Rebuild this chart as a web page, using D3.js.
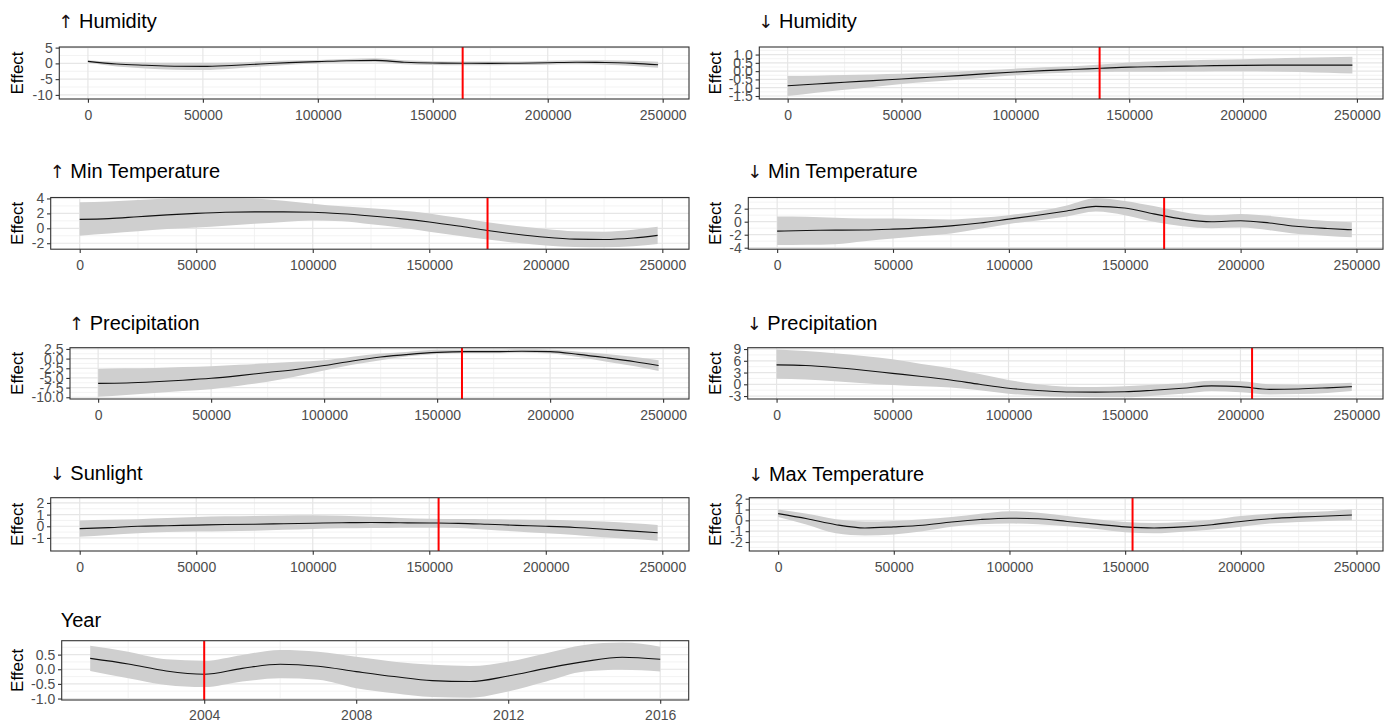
<!DOCTYPE html>
<html><head><meta charset="utf-8">
<script src="https://cdn.jsdelivr.net/npm/d3@7"></script>
<style>
body{margin:0;background:#fff;}
text{font-family:"Liberation Sans",Arial,Helvetica,sans-serif;}
</style>
</head><body>
<svg id="chart" width="1385" height="722"></svg>
<script>
// ---------- data ----------
const xGrid = [0,12500,25000,37500,50000,62500,75000,87500,100000,112500,125000,137500,150000,162500,175000,187500,200000,212500,225000,237500,248000];
const xTicks = [0,50000,100000,150000,200000,250000];
const yearGrid = [2001,2002,2003,2004,2005,2006,2007,2008,2009,2010,2011,2012,2013,2014,2015,2016];
const yearTicks = [2004,2008,2012,2016];

const titles = ["↑ Humidity","↓ Humidity","↑ Min Temperature","↓ Min Temperature","↑ Precipitation","↓ Precipitation","↓ Sunlight","↓ Max Temperature","Year"];

const humUpFit = [0.65,-0.2,-0.6,-0.9,-0.95,-0.65,-0.2,0.25,0.55,0.85,0.95,0.35,0.1,0.05,0.0,0.05,0.2,0.35,0.3,0.0,-0.45];
const humUpLo  = [0.3,-1.0,-1.6,-2.0,-2.1,-1.7,-1.0,-0.4,0.0,0.3,0.35,-0.3,-0.5,-0.6,-0.6,-0.5,-0.4,-0.3,-0.4,-0.8,-1.4];
const humUpHi  = [1.0,0.5,0.3,0.2,0.2,0.3,0.6,0.9,1.1,1.4,1.6,1.0,0.7,0.6,0.6,0.6,0.8,1.0,1.0,0.8,0.5];

const humDnFit = [-0.88,-0.78,-0.67,-0.57,-0.47,-0.37,-0.27,-0.15,-0.05,0.03,0.1,0.17,0.24,0.27,0.3,0.33,0.35,0.36,0.36,0.36,0.36];
const humDnLo  = [-1.5,-1.3,-1.12,-0.95,-0.78,-0.64,-0.52,-0.38,-0.25,-0.15,-0.08,-0.05,-0.03,-0.03,-0.02,0.0,0.0,-0.02,-0.05,-0.1,-0.15];
const humDnHi  = [-0.3,-0.28,-0.24,-0.2,-0.16,-0.1,-0.03,0.07,0.15,0.23,0.3,0.4,0.52,0.6,0.64,0.68,0.72,0.76,0.8,0.84,0.86];

const minUpFit = [1.2,1.3,1.55,1.8,2.0,2.15,2.2,2.2,2.15,1.95,1.65,1.3,0.85,0.3,-0.3,-0.8,-1.2,-1.45,-1.5,-1.3,-0.95];
const minUpLo  = [-1.0,-0.7,-0.4,-0.1,0.1,0.35,0.6,0.85,1.05,0.95,0.55,0.1,-0.45,-1.0,-1.5,-1.95,-2.3,-2.5,-2.55,-2.4,-2.1];
const minUpHi  = [3.5,3.6,3.8,4.0,4.1,4.1,4.0,3.7,3.3,2.95,2.7,2.4,2.0,1.4,0.8,0.3,-0.1,-0.4,-0.45,-0.2,0.2];

const minDnFit = [-1.45,-1.35,-1.3,-1.28,-1.15,-0.95,-0.65,-0.2,0.4,1.0,1.65,2.35,2.1,1.2,0.4,0.0,0.15,-0.2,-0.75,-1.05,-1.25];
const minDnLo  = [-3.6,-3.55,-3.45,-3.0,-2.6,-2.2,-1.8,-1.1,-0.35,0.2,0.8,1.55,1.0,0.0,-0.7,-1.0,-0.9,-1.3,-1.9,-2.2,-2.4];
const minDnHi  = [0.8,0.75,0.6,0.5,0.5,0.4,0.35,0.6,1.0,1.6,2.5,3.6,3.2,2.4,1.5,1.0,1.2,0.9,0.4,0.1,-0.1];

const precUpFit = [-6.4,-6.3,-6.0,-5.6,-5.1,-4.4,-3.6,-2.8,-1.8,-0.6,0.4,1.1,1.6,1.8,1.8,1.9,1.8,1.1,0.2,-0.8,-1.8];
const precUpLo  = [-9.9,-9.4,-8.9,-8.4,-7.9,-7.0,-6.0,-4.6,-3.1,-1.6,-0.4,0.6,1.2,1.4,1.4,1.5,1.3,0.4,-0.8,-2.0,-3.2];
const precUpHi  = [-2.7,-2.5,-2.4,-2.2,-2.0,-1.6,-1.2,-0.8,-0.4,0.5,1.3,1.8,2.3,2.3,2.3,2.4,2.3,1.8,1.2,0.4,-0.4];

const precDnFit = [4.95,4.8,4.3,3.6,2.8,2.0,1.1,0.0,-1.0,-1.6,-1.95,-2.0,-1.9,-1.5,-1.0,-0.4,-0.6,-1.3,-1.2,-0.9,-0.6];
const precDnLo  = [1.4,1.2,0.8,0.3,-0.2,-0.5,-0.8,-1.5,-2.4,-2.9,-3.2,-3.3,-3.3,-2.9,-2.4,-1.8,-2.0,-2.6,-2.5,-2.2,-1.7];
const precDnHi  = [8.9,8.5,7.9,7.2,6.4,5.2,4.1,2.6,1.1,0.0,-0.6,-0.7,-0.5,-0.1,0.3,0.9,0.8,0.0,-0.1,0.2,0.4];

const sunFit = [-0.2,-0.12,0.0,0.05,0.1,0.15,0.18,0.22,0.26,0.3,0.33,0.3,0.28,0.25,0.17,0.08,0.0,-0.1,-0.25,-0.42,-0.55];
const sunLo  = [-0.9,-0.75,-0.6,-0.5,-0.45,-0.42,-0.38,-0.3,-0.23,-0.18,-0.15,-0.12,-0.12,-0.15,-0.3,-0.45,-0.6,-0.75,-0.95,-1.1,-1.25];
const sunHi  = [0.5,0.55,0.6,0.7,0.8,0.85,0.88,0.92,0.95,0.9,0.82,0.72,0.65,0.62,0.6,0.58,0.55,0.5,0.4,0.25,0.1];

const maxDnFit = [0.62,0.15,-0.4,-0.7,-0.6,-0.45,-0.15,0.08,0.2,0.15,-0.1,-0.35,-0.6,-0.7,-0.6,-0.4,-0.1,0.15,0.3,0.4,0.5];
const maxDnLo  = [0.3,-0.4,-1.2,-1.4,-1.3,-1.0,-0.6,-0.35,-0.3,-0.35,-0.55,-0.8,-1.1,-1.2,-1.05,-0.85,-0.6,-0.3,-0.15,-0.05,0.0];
const maxDnHi  = [1.0,0.6,0.1,-0.1,-0.05,0.1,0.3,0.6,0.85,0.7,0.4,0.1,-0.15,-0.25,-0.15,0.05,0.4,0.6,0.75,0.85,1.0];

const yearFit = [0.37,0.18,-0.06,-0.17,0.03,0.17,0.1,-0.08,-0.25,-0.39,-0.42,-0.23,0.03,0.26,0.41,0.34];
const yearLo  = [-0.06,-0.31,-0.54,-0.61,-0.42,-0.31,-0.36,-0.65,-0.82,-0.95,-0.97,-0.76,-0.42,-0.08,-0.02,-0.08];
const yearHi  = [0.8,0.6,0.34,0.29,0.49,0.66,0.6,0.43,0.26,0.15,0.11,0.26,0.55,0.83,0.91,0.77];

const vlines = [163000,137000,175000,167000,161000,205000,154000,153200,2004];

const yTickSets = [
  [-10,-5,0,5],
  [-1.5,-1,-0.5,0,0.5,1],
  [-2,0,2,4],
  [-4,-2,0,2],
  [-10,-7.5,-5,-2.5,0,2.5],
  [-3,0,3,6,9],
  [-1,0,1,2],
  [-2,-1,0,1,2],
  [-1,-0.5,0,0.5]
];
const yFormats = ["d",".1f","d","d",".1f","d","d","d",".1f"];
const yDomains = [[-11.3,5.2],[-1.68,1.455],[-2.8,4.13],[-4.23,3.72],[-10.45,2.82],[-3.75,9.34],[-2.12,2.45],[-2.83,2.09],[-1.05,0.975]];

const seriesX = [xGrid,xGrid,xGrid,xGrid,xGrid,xGrid,xGrid,xGrid,yearGrid];
const seriesFit = [humUpFit,humDnFit,minUpFit,minDnFit,precUpFit,precDnFit,sunFit,maxDnFit,yearFit];
const seriesLo = [humUpLo,humDnLo,minUpLo,minDnLo,precUpLo,precDnLo,sunLo,maxDnLo,yearLo];
const seriesHi = [humUpHi,humDnHi,minUpHi,minDnHi,precUpHi,precDnHi,sunHi,maxDnHi,yearHi];

// ---------- layout (pixels) ----------
const layout = [
  {left:59.3, top:47, right:689, bottom:99, titleY:28.3, labX:17},
  {left:759.3, top:47, right:1383, bottom:99, titleY:28.3, labX:715},
  {left:50.7, top:197.5, right:689, bottom:249.2, titleY:178.3, labX:17},
  {left:748.3, top:197.5, right:1383, bottom:249.2, titleY:178.3, labX:715},
  {left:70, top:347.7, right:689, bottom:399, titleY:330, labX:17},
  {left:747.7, top:347.7, right:1383, bottom:399, titleY:330, labX:715},
  {left:50.7, top:497.7, right:689, bottom:551, titleY:480, labX:17},
  {left:749.3, top:497.7, right:1383, bottom:551, titleY:480.5, labX:715},
  {left:61.7, top:640.7, right:688.7, bottom:700, titleY:626.7, labX:17}
];

const svg = d3.select("#chart");
const defs = svg.append("defs");

function minors(ticks, dom){
  const s = ticks[1]-ticks[0];
  const out = [];
  for (let t = ticks[0]-s; t <= ticks[ticks.length-1]+s; t += s){
    const m = t + s/2;
    if (m > Math.min(...dom) && m < Math.max(...dom)) out.push(m);
  }
  return out;
}

layout.forEach((L,i)=>{
  const isYear = i===8;
  const xs = seriesX[i];
  const xTv = isYear ? yearTicks : xTicks;
  const xDom = isYear ? [2000.25,2016.75] : [-12450,261450];
  const x = d3.scaleLinear().domain(xDom).range([L.left,L.right]);
  const y = d3.scaleLinear().domain(yDomains[i]).range([L.bottom,L.top]);
  const g = svg.append("g");
  const cid = "clip"+i;
  defs.append("clipPath").attr("id",cid).append("rect")
    .attr("x",L.left).attr("y",L.top).attr("width",L.right-L.left).attr("height",L.bottom-L.top);

  g.append("rect").attr("x",L.left).attr("y",L.top).attr("width",L.right-L.left).attr("height",L.bottom-L.top).attr("fill","#fff");

  const grid = g.append("g").attr("clip-path",`url(#${cid})`);
  minors(xTv,xDom).forEach(v=>grid.append("line").attr("x1",x(v)).attr("x2",x(v)).attr("y1",L.top).attr("y2",L.bottom).attr("stroke","#f0f0f0").attr("stroke-width",0.8));
  minors(yTickSets[i],yDomains[i]).forEach(v=>grid.append("line").attr("y1",y(v)).attr("y2",y(v)).attr("x1",L.left).attr("x2",L.right).attr("stroke","#f0f0f0").attr("stroke-width",0.8));
  xTv.forEach(v=>grid.append("line").attr("x1",x(v)).attr("x2",x(v)).attr("y1",L.top).attr("y2",L.bottom).attr("stroke","#e6e6e6").attr("stroke-width",1.2));
  yTickSets[i].forEach(v=>grid.append("line").attr("y1",y(v)).attr("y2",y(v)).attr("x1",L.left).attr("x2",L.right).attr("stroke","#e6e6e6").attr("stroke-width",1.2));

  const pts = xs.map((v,k)=>({x:v, f:seriesFit[i][k], lo:seriesLo[i][k], hi:seriesHi[i][k]}));
  const area = d3.area().x(d=>x(d.x)).y0(d=>y(d.lo)).y1(d=>y(d.hi)).curve(d3.curveMonotoneX);
  const line = d3.line().x(d=>x(d.x)).y(d=>y(d.f)).curve(d3.curveMonotoneX);
  const plot = g.append("g").attr("clip-path",`url(#${cid})`);
  plot.append("path").attr("d",area(pts)).attr("fill","#cfcfcf");
  plot.append("path").attr("d",line(pts)).attr("fill","none").attr("stroke","#111").attr("stroke-width",1.1);
  plot.append("line").attr("x1",x(vlines[i])).attr("x2",x(vlines[i])).attr("y1",L.top).attr("y2",L.bottom).attr("stroke","#ff0000").attr("stroke-width",2);

  g.append("rect").attr("x",L.left).attr("y",L.top).attr("width",L.right-L.left).attr("height",L.bottom-L.top)
    .attr("fill","none").attr("stroke","#333").attr("stroke-width",1.1);

  const ax = g.append("g").attr("transform",`translate(0,${L.bottom})`)
    .call(d3.axisBottom(x).tickValues(xTv).tickSize(3.7).tickSizeOuter(0).tickPadding(isYear?6.5:7.3).tickFormat(d3.format("d")));
  const ay = g.append("g").attr("transform",`translate(${L.left},0)`)
    .call(d3.axisLeft(y).tickValues(yTickSets[i]).tickSize(3.7).tickSizeOuter(0).tickPadding(2.8).tickFormat(d3.format(yFormats[i])));
  [ax,ay].forEach(a=>{
    a.select(".domain").remove();
    a.selectAll("line").attr("stroke","#333").attr("stroke-width",1.1);
    a.selectAll("text").attr("fill","#4d4d4d").style("font-size","14px").style("font-family","'Liberation Sans',Arial,sans-serif");
    a.selectAll("text").text(function(){ return d3.select(this).text().replace("−","-"); });
  });

  // titles (arrow glyph in a font with a full-size arrow)
  const t = g.append("text").attr("x",L.left-1).attr("y",L.titleY).attr("fill","#000").style("font-size","20px");
  const title = titles[i];
  if (title[0]==="↑" || title[0]==="↓"){
    t.append("tspan").style("font-family","'DejaVu Sans',sans-serif").style("font-size","18px").attr("fill","#1a1010").text(title[0]);
    t.append("tspan").text(title.slice(1));
  } else {
    t.text(title);
  }
  g.append("text").attr("transform",`translate(${L.labX},${(L.top+L.bottom)/2}) rotate(-90)`)
    .attr("text-anchor","middle").attr("dominant-baseline","central").text("Effect")
    .attr("fill","#000").style("font-size","17px");
});
</script>
</body></html>
